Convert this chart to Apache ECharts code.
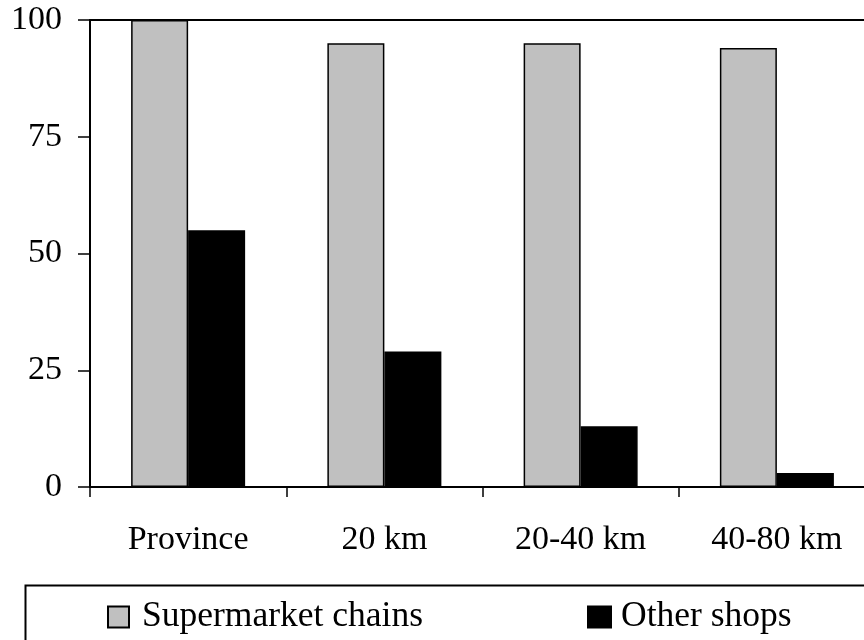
<!DOCTYPE html>
<html>
<head>
<meta charset="utf-8">
<script src="https://cdn.jsdelivr.net/npm/echarts@6/dist/echarts.min.js"></script>
<style>
  html, body { margin: 0; padding: 0; background: #fff; }
  #chart { width: 864px; height: 640px; }
</style>
</head>
<body>
<div id="chart"></div>
<script>
// Share of shops by distance band
const categories = ['Province', '20 km', '20-40 km', '40-80 km'];
const supermarketChains = [100, 95, 95, 94];
const otherShops = [55, 29, 13, 3];
const yTicks = [0, 25, 50, 75, 100];

const serif = '"Liberation Serif", "Times New Roman", serif';
const chart = echarts.init(document.getElementById('chart'), null, { renderer: 'canvas' });

chart.setOption({
  animation: false,
  backgroundColor: '#ffffff',
  grid: { left: 90, top: 20, width: 785, height: 467, containLabel: false, outerBoundsMode: 'none' },
  xAxis: [{
    type: 'category',
    data: categories,
    boundaryGap: true,
    axisLine: { show: true, lineStyle: { color: '#000', width: 2 } },
    axisTick: { show: true, length: 10, lineStyle: { color: '#000', width: 1.5 } },
    axisLabel: { color: '#000', fontFamily: serif, fontSize: 34, margin: 36 },
    splitLine: { show: false }
  }, {
    type: 'category',
    position: 'top',
    data: categories,
    axisLine: { show: true, lineStyle: { color: '#000', width: 2 } },
    axisTick: { show: false },
    axisLabel: { show: false }
  }],
  yAxis: {
    type: 'value',
    min: yTicks[0],
    max: yTicks[yTicks.length - 1],
    interval: 25,
    axisLine: { show: true, lineStyle: { color: '#000', width: 2 } },
    axisTick: { show: true, inside: false, length: 12, lineStyle: { color: '#000', width: 1.5 } },
    axisLabel: { color: '#000', fontFamily: serif, fontSize: 34, margin: 28, verticalAlign: 'middle', padding: [6, 0, 0, 0] },
    splitLine: { show: false }
  },
  legend: [{
    data: [{ name: 'Supermarket chains', icon: 'rect' }],
    left: 102, top: 594,
    itemWidth: 21, itemHeight: 21,
    itemGap: 0,
    textStyle: { color: '#000', fontFamily: serif, fontSize: 35.5, padding: [0, 0, 0, 8] }
  }, {
    data: [{ name: 'Other shops', icon: 'rect' }],
    left: 582, top: 594,
    itemWidth: 23, itemHeight: 21,
    itemGap: 0,
    textStyle: { color: '#000', fontFamily: serif, fontSize: 35.5, padding: [0, 0, 0, 5] }
  }],
  graphic: [{
    type: 'rect',
    left: 23, top: 583,
    shape: { width: 900, height: 100 },
    style: { fill: 'none', stroke: '#000', lineWidth: 2 },
    z: -1
  }],
  series: [{
    name: 'Supermarket chains',
    type: 'bar',
    data: supermarketChains,
    barWidth: 57,
    barGap: '0%',
    itemStyle: { color: '#c0c0c0', borderColor: '#000', borderWidth: 1.5 }
  }, {
    name: 'Other shops',
    type: 'bar',
    data: otherShops,
    barWidth: 57,
    barGap: '0%',
    itemStyle: { color: '#000', borderColor: '#000', borderWidth: 1.5 }
  }]
});
</script>
</body>
</html>
